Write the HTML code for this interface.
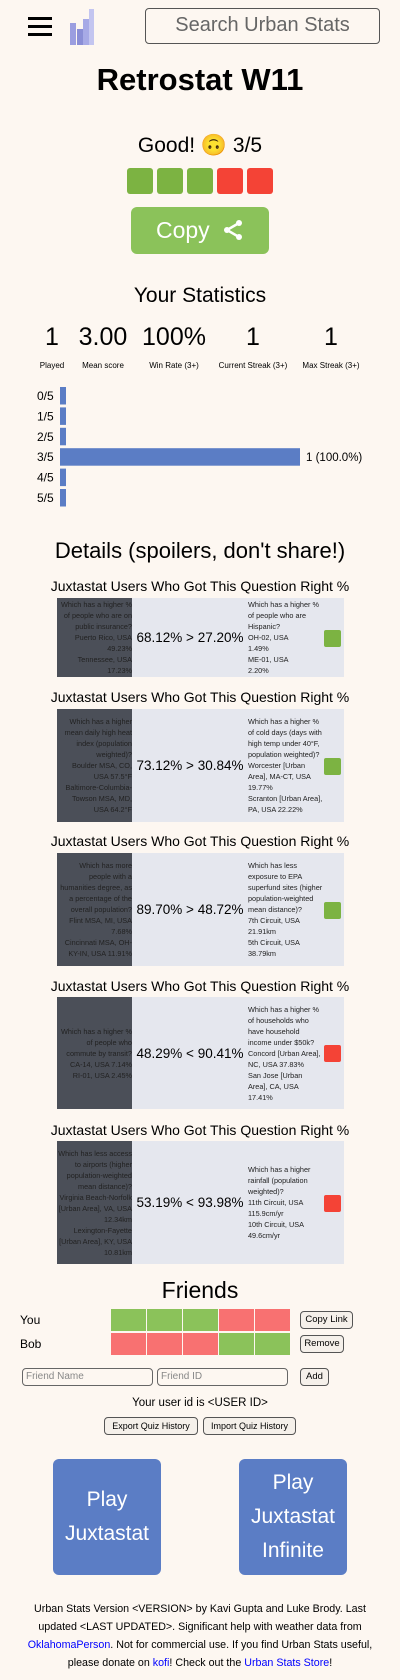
<!DOCTYPE html>
<html><head><meta charset="utf-8">
<style>
body{margin:0;width:400px;height:1680px;background:#fdf7f1;font-family:"Liberation Sans",sans-serif;color:#000;position:relative;overflow:hidden}
.a{position:absolute}
.c{position:absolute;left:0;width:400px;text-align:center}
.sq{display:inline-block;width:26px;height:26px;border-radius:3px;margin:0 2px;vertical-align:top}
.g{background:#7cb342}.r{background:#f44336}
.btn{position:absolute;border:1px solid #555;border-radius:4px;background:#f5f0ea;font-size:9.5px;text-align:center;box-sizing:border-box;line-height:16px;white-space:nowrap}
.card{position:absolute;left:57px;width:287px;background:#e5e7ee}
.card .l{position:absolute;left:0;top:0;bottom:0;width:75px;background:#4b4f58;color:#222;font-size:7.3px;line-height:11px;text-align:right;display:flex;flex-direction:column;justify-content:center;overflow:hidden}
.card .m{position:absolute;left:75px;width:116px;top:0;bottom:0;display:flex;align-items:center;justify-content:center;font-size:13.5px;white-space:nowrap}
.card .rt{position:absolute;left:191px;width:75px;top:0;bottom:0;font-size:7.3px;line-height:11px;display:flex;flex-direction:column;justify-content:center;color:#222}
.card .s{position:absolute;left:267px;width:17px;height:17px;top:50%;margin-top:-8px;border-radius:2px}
.ct{position:absolute;left:0;width:400px;text-align:center;font-size:14px}
.fr{position:absolute;width:35px;height:22px}
.fg{background:#8bc25a}.frd{background:#f87171}
.inp{position:absolute;height:18px;border:1px solid #666;border-radius:4px;box-sizing:border-box;font-size:10px;color:#888;padding-left:3px;line-height:16px;background:#fdf7f1}
.play{position:absolute;width:108px;height:116px;background:#5b7dc5;border-radius:6px;color:#fff;font-size:21px;line-height:34px;display:flex;align-items:center;justify-content:center;text-align:center}
a{color:#00f}
</style></head><body>
<div class="a" style="left:28px;top:17px;width:24px;height:19px">
<div style="height:3px;background:#000;margin-bottom:5px"></div><div style="height:3px;background:#000;margin-bottom:5px"></div><div style="height:3px;background:#000"></div></div>
<svg class="a" style="left:70px;top:9px" width="26" height="36"><rect x="0" y="14" width="6" height="22" fill="#9b9ee0"/><rect x="7" y="20" width="6" height="16" fill="#8a8ed6"/><rect x="13" y="10" width="6" height="26" fill="#a7aae6"/><rect x="19" y="0" width="5" height="36" fill="#c3c5f0"/></svg>
<div class="a" style="left:145px;top:8px;width:235px;height:36px;border:1px solid #555;border-radius:4px;box-sizing:border-box;font-size:20px;color:#666;text-align:center;line-height:33px">Search Urban Stats</div>
<div class="c" style="top:62px;font-size:31px;font-weight:bold">Retrostat W11</div>
<div class="c" style="top:134px;font-size:21px">Good! 🙃 3/5</div>
<div class="c" style="top:168px"><span class="sq g"></span><span class="sq g"></span><span class="sq g"></span><span class="sq r"></span><span class="sq r"></span></div>
<div class="a" style="left:131px;top:207px;width:138px;height:47px;background:#8bc25a;border-radius:6px;color:#fff;font-size:23px;line-height:47px;text-align:center">Copy <svg width="22" height="22" viewBox="0 0 22 22" style="vertical-align:-3px;margin-left:6px"><circle cx="17" cy="4" r="3" fill="#fff"/><circle cx="5" cy="11" r="3" fill="#fff"/><circle cx="17" cy="18" r="3" fill="#fff"/><path d="M17 4L5 11L17 18" stroke="#fff" stroke-width="2.5" fill="none"/></svg></div>
<div class="c" style="top:284px;font-size:21px">Your Statistics</div>
<div id="stats"></div>
<svg class="a" id="dist" style="left:0;top:380px" width="400" height="130"></svg>
<div class="c" style="top:538px;font-size:22px">Details (spoilers, don't share!)</div>
<div id="cards"></div>
<div class="c" style="top:1277px;font-size:23px">Friends</div>
<div class="a" style="left:20px;top:1313px;font-size:12px">You</div>
<div class="a" style="left:20px;top:1337px;font-size:12px">Bob</div>
<div id="fr"></div>
<div class="btn" style="left:300px;top:1311px;width:53px;height:18px">Copy Link</div>
<div class="btn" style="left:300px;top:1335px;width:44px;height:18px">Remove</div>
<div class="inp" style="left:22px;top:1368px;width:131px">Friend Name</div>
<div class="inp" style="left:157px;top:1368px;width:131px">Friend ID</div>
<div class="btn" style="left:300px;top:1368px;width:29px;height:18px">Add</div>
<div class="c" style="top:1397px;font-size:11.5px">Your user id is &lt;USER ID&gt;</div>
<div class="btn" style="left:104px;top:1417px;width:94px;height:18px;font-size:9px">Export Quiz History</div>
<div class="btn" style="left:203px;top:1417px;width:93px;height:18px;font-size:9px">Import Quiz History</div>
<div class="play" style="left:53px;top:1459px">Play<br>Juxtastat</div>
<div class="play" style="left:239px;top:1459px">Play<br>Juxtastat<br>Infinite</div>
<div class="a" style="left:20px;top:1600px;width:360px;font-size:10.7px;line-height:18px;text-align:center">Urban Stats Version &lt;VERSION&gt; by Kavi Gupta and Luke Brody. Last updated &lt;LAST UPDATED&gt;. Significant help with weather data from <a>OklahomaPerson</a>. Not for commercial use. If you find Urban Stats useful, please donate on <a>kofi</a>! Check out the <a>Urban Stats Store</a>!</div>
<script>
const statValues=['1','3.00','100%','1','1'];
const statLabels=['Played','Mean score','Win Rate (3+)','Current Streak (3+)','Max Streak (3+)'];
const statX=[52,103,174,253,331];
const st=document.getElementById('stats');
statValues.forEach((v,i)=>{
 const d=document.createElement('div');d.className='a';
 
 
 d.style.cssText='left:'+(statX[i]-50)+'px;width:100px;text-align:center;top:323px';
 d.innerHTML='<div style="font-size:25px">'+v+'</div><div style="font-size:8px;margin-top:9px">'+statLabels[i]+'</div>';
 st.appendChild(d);
});
const distCats=['0/5','1/5','2/5','3/5','4/5','5/5'];
const distCounts=[0,0,0,1,0,0];
const svg=document.getElementById('dist');const NS='http://www.w3.org/2000/svg';
const total=distCounts.reduce((a,b)=>a+b,0);const maxC=Math.max(...distCounts);
const xs=c=>6+ (maxC?c/maxC:0)*234;
distCats.forEach((c,i)=>{
 const y=7+i*20.4;
 const t=document.createElementNS(NS,'text');t.setAttribute('x',37);t.setAttribute('y',y+13);t.setAttribute('font-size','12');t.textContent=c;
 
 svg.appendChild(t);
 const r=document.createElementNS(NS,'rect');r.setAttribute('x',60);r.setAttribute('y',y);r.setAttribute('width',xs(distCounts[i]));r.setAttribute('height',17.5);r.setAttribute('fill','#5b7dc5');
 
 svg.appendChild(r);
 if(distCounts[i]>0){const l=document.createElementNS(NS,'text');l.setAttribute('x',60+xs(distCounts[i])+6);l.setAttribute('y',y+13);l.setAttribute('font-size','11.5');l.textContent=distCounts[i]+' ('+(100*distCounts[i]/total).toFixed(1)+'%)';
 
 svg.appendChild(l);}
});
const cards=[
 {t:587,top:598,h:79,l:'Which has a higher % of people who are on public insurance?<br>Puerto Rico, USA 49.23%<br>Tennessee, USA 17.23%',m:'68.12% &gt; 27.20%',r:'Which has a higher % of people who are Hispanic?<br>OH-02, USA<br>1.49%<br>ME-01, USA<br>2.20%',ok:1},
 {t:698,top:709,h:113,l:'Which has a higher mean daily high heat index (population weighted)?<br>Boulder MSA, CO, USA 57.5°F<br>Baltimore-Columbia-Towson MSA, MD, USA 64.2°F',m:'73.12% &gt; 30.84%',r:'Which has a higher % of cold days (days with high temp under 40°F, population weighted)?<br>Worcester [Urban Area], MA-CT, USA 19.77%<br>Scranton [Urban Area], PA, USA 22.22%',ok:1},
 {t:842,top:853,h:113,l:'Which has more people with a humanities degree, as a percentage of the overall population?<br>Flint MSA, MI, USA 7.68%<br>Cincinnati MSA, OH-KY-IN, USA 11.91%',m:'89.70% &gt; 48.72%',r:'Which has less exposure to EPA superfund sites (higher population-weighted mean distance)?<br>7th Circuit, USA 21.91km<br>5th Circuit, USA 38.79km',ok:1},
 {t:987,top:997,h:112,l:'Which has a higher % of people who commute by transit?<br>CA-14, USA 7.14%<br>RI-01, USA 2.45%',m:'48.29% &lt; 90.41%',r:'Which has a higher % of households who have household income under $50k?<br>Concord [Urban Area], NC, USA 37.83%<br>San Jose [Urban Area], CA, USA 17.41%',ok:0},
 {t:1131,top:1141,h:123,l:'Which has less access to airports (higher population-weighted mean distance)?<br>Virginia Beach-Norfolk [Urban Area], VA, USA 12.34km<br>Lexington-Fayette [Urban Area], KY, USA 10.81km',m:'53.19% &lt; 93.98%',r:'Which has a higher rainfall (population weighted)?<br>11th Circuit, USA 115.9cm/yr<br>10th Circuit, USA 49.6cm/yr',ok:0}
];
const cc=document.getElementById('cards');
cards.forEach((c,i)=>{
 const t=document.createElement('div');t.className='ct';t.style.top=(c.t-9)+'px';t.textContent='Juxtastat Users Who Got This Question Right %';
 
 cc.appendChild(t);
 const d=document.createElement('div');d.className='card';d.style.top=c.top+'px';d.style.height=c.h+'px';
 
 
 d.innerHTML='<div class="l"><div>'+c.l+'</div></div><div class="m">'+c.m+'</div><div class="rt"><div>'+c.r+'</div></div><div class="s '+(c.ok?'g':'r')+'"></div>';
 cc.appendChild(d);
});
const youRes=[1,1,1,0,0];const bobRes=[0,0,0,1,1];
const fr=document.getElementById('fr');
[youRes,bobRes].forEach((arr,j)=>arr.forEach((v,i)=>{
 const d=document.createElement('div');d.className='fr '+(v?'fg':'frd');
 d.style.left=(111+i*36)+'px';d.style.top=(1309+j*24)+'px';
 
 fr.appendChild(d);
}));
</script>
</body></html>
